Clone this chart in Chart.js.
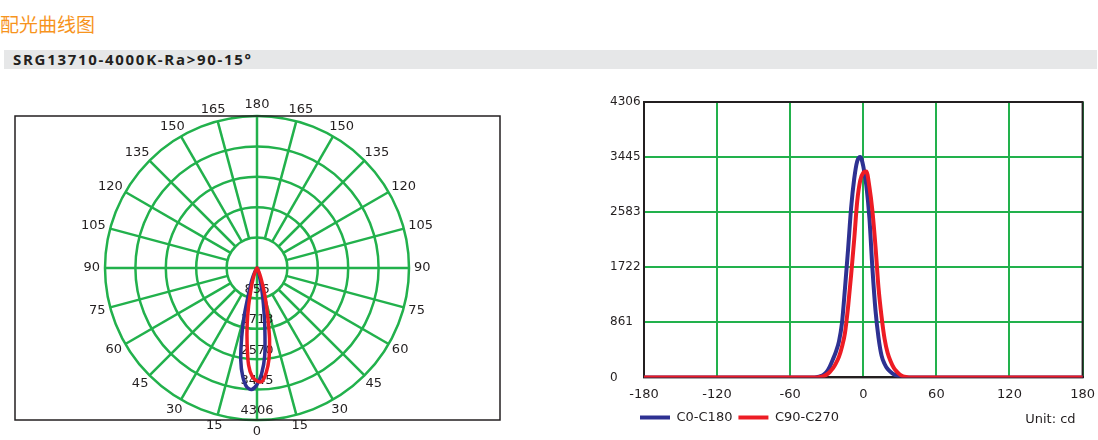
<!DOCTYPE html>
<html>
<head>
<meta charset="utf-8">
<script src="https://cdn.jsdelivr.net/npm/chart.js@4.4.0/dist/chart.umd.min.js"></script>
<style>
  body { margin: 0; width: 1098px; height: 440px; position: relative; background: #fff; overflow: hidden; }
  #title { position: absolute; left: 0; top: 11px; font: 19px "Noto Sans CJK SC"; line-height: 26px; color: #f7941d; }
  #bar { position: absolute; left: 4px; top: 50px; width: 1093px; height: 19px; background: #e6e7e8; }
  #bar span { position: absolute; left: 9px; top: 0; font: bold 15px "Open Sans"; line-height: 19px; color: #231f20; letter-spacing: 1.7px; }
  #polarBox { position: absolute; left: 0; top: 95px; width: 520px; height: 345px; }
  #lineBox { position: absolute; left: 590px; top: 90px; width: 508px; height: 350px; }
</style>
</head>
<body>
<div id="title">配光曲线图</div>
<div id="bar"><span>SRG13710-4000K-Ra&gt;90-15°</span></div>
<div id="polarBox"><canvas id="polar"></canvas></div>
<div id="lineBox"><canvas id="curve"></canvas></div>
<script>
// gamma angles (deg), negative = C180 / C270 half
const angles = [-180,
  -40, -37.5, -35, -32.5, -30, -27.5, -25, -22.5, -20, -17.5, -15, -12.5, -10, -7.5, -5, -2.5,
  0, 2.5, 5, 7.5, 10, 12.5, 15, 17.5, 20, 22.5, 25, 27.5, 30, 32.5, 35, 37.5, 40,
  180];
const c0Values = [0,
  0, 5, 20, 45, 90, 170, 280, 400, 560, 850, 1400, 2000, 2650, 3100, 3380, 3445,
  3300, 3000, 2500, 1700, 1050, 620, 340, 210, 130, 85, 50, 28, 12, 5, 0, 0, 0,
  0];
const c90Values = [0,
  0, 0, 8, 20, 45, 85, 140, 220, 320, 480, 700, 1100, 1600, 2150, 2750, 3080,
  3200, 3220, 2980, 2600, 2050, 1400, 950, 600, 380, 250, 150, 90, 45, 18, 5, 0, 0,
  0];
const seriesNames = ['C0-C180', 'C90-C270'];
const seriesColors = ['#2e3192', '#ed1c24'];
const intensityTicks = ['0', '861', '1722', '2583', '3445', '4306'];
const ringLabels = ['856', '1713', '2570', '3445', '4306'];
const polarAngleLabels = ['0', '15', '30', '45', '60', '75', '90', '105', '120', '135', '150', '165', '180'];
const xTicks = [-180, -120, -60, 0, 60, 120, 180];
const maxCd = 4306;

const green = '#22b14c';
const ink = '#231f20';
const font = '"DejaVu Sans", sans-serif';

// ---- polar (radar) ----
const polarStep = 2.5;
const polarCount = 360 / polarStep;
const polarLabels = [];
for (let i = 0; i < polarCount; i++) polarLabels.push(i * polarStep);

function lookup(values, a) {
  const k = angles.indexOf(a);
  return k < 0 ? 0 : values[k];
}
function polarData(values) {
  return polarLabels.map(g => lookup(values, g <= 180 ? -g : 360 - g));
}

const polarDecor = {
  id: 'polarDecor',
  beforeDatasetsDraw(chart) {
    const s = chart.scales.r;
    const ctx = chart.ctx;
    const R = s.drawingArea;
    const ca = chart.chartArea;
    ctx.save();
    // spokes every 15 deg
    ctx.strokeStyle = green;
    ctx.lineWidth = 2.5;
    const inner = s.getDistanceFromCenterForValue(maxCd / 5);
    for (let i = 0; i < polarCount; i += 15 / polarStep) {
      const from = (i % (90 / polarStep) === 0) ? 0 : inner;
      const p1 = s.getPointPosition(i, from);
      const p2 = s.getPointPosition(i, R);
      ctx.beginPath();
      ctx.moveTo(p1.x, p1.y);
      ctx.lineTo(p2.x, p2.y);
      ctx.stroke();
    }
    // frame
    ctx.strokeStyle = ink;
    ctx.lineWidth = 1.5;
    ctx.strokeRect(ca.left, ca.top, ca.right - ca.left, ca.bottom - ca.top);
    // ring values below centre
    ctx.fillStyle = ink;
    ctx.font = '13px ' + font;
    ctx.textAlign = 'center';
    ctx.textBaseline = 'middle';
    ringLabels.forEach((t, k) => {
      const r = s.getDistanceFromCenterForValue((k + 1) * maxCd / 5);
      ctx.fillText(t, s.xCenter, s.yCenter + r - 9);
    });
    // angle labels on both halves
    const put = (idx, text) => {
      const p = s.getPointPosition(idx, R + 4);
      const dx = (p.x - s.xCenter) / (R + 4);
      const dy = (p.y - s.yCenter) / (R + 4);
      const w = ctx.measureText(text).width;
      ctx.fillText(text, p.x + dx * (w / 2 + 1), p.y + dy * 7.5);
    };
    polarAngleLabels.forEach(t => {
      const g = Number(t);
      put(g / polarStep, t);
      if (g > 0 && g < 180) put((360 - g) / polarStep, t);
    });
    ctx.restore();
  }
};

new Chart(document.getElementById('polar'), {
  type: 'radar',
  data: {
    labels: polarLabels,
    datasets: [
      { label: seriesNames[0], data: polarData(c0Values), borderColor: seriesColors[0], order: 1 },
      { label: seriesNames[1], data: polarData(c90Values), borderColor: seriesColors[1], order: 0 }
    ]
  },
  options: {
    responsive: true,
    maintainAspectRatio: false,
    animation: false,
    layout: { padding: { left: 15, right: 20, top: 21, bottom: 20 } },
    elements: {
      line: { borderWidth: 3.5, tension: 0.3, fill: false, borderJoinStyle: 'round' },
      point: { radius: 0 }
    },
    plugins: { legend: { display: false }, tooltip: { enabled: false } },
    scales: {
      r: {
        min: 0,
        max: maxCd,
        startAngle: 180,
        ticks: { display: false, stepSize: maxCd / 5 },
        grid: { color: green, lineWidth: 2.5, circular: true },
        angleLines: { display: false },
        pointLabels: { display: false }
      }
    }
  },
  plugins: [polarDecor]
});

// ---- cartesian curve ----
const frameAndUnit = {
  id: 'frameAndUnit',
  beforeDatasetsDraw(chart) {
    const { ctx, chartArea: ca } = chart;
    ctx.save();
    ctx.strokeStyle = ink;
    ctx.lineWidth = 2;
    ctx.strokeRect(ca.left, ca.top, ca.right - ca.left, ca.bottom - ca.top);
    ctx.restore();
  },
  afterDraw(chart) {
    const { ctx, chartArea: ca } = chart;
    ctx.save();
    ctx.fillStyle = ink;
    ctx.font = '13px ' + font;
    ctx.textAlign = 'right';
    ctx.textBaseline = 'middle';
    ctx.fillText('Unit: cd', ca.right - 7, ca.bottom + 42);
    ctx.restore();
  }
};

const toPoints = values => angles.map((a, i) => ({ x: a, y: values[i] }));

new Chart(document.getElementById('curve'), {
  type: 'line',
  data: {
    datasets: [
      { label: seriesNames[0], data: toPoints(c0Values), borderColor: seriesColors[0], backgroundColor: seriesColors[0], order: 1 },
      { label: seriesNames[1], data: toPoints(c90Values), borderColor: seriesColors[1], backgroundColor: seriesColors[1], order: 0 }
    ]
  },
  options: {
    responsive: true,
    maintainAspectRatio: false,
    animation: false,
    layout: { padding: { left: 44, right: 14, top: 12, bottom: 6 } },
    elements: {
      line: { borderWidth: 4, cubicInterpolationMode: 'monotone', borderCapStyle: 'round', borderJoinStyle: 'round' },
      point: { radius: 0 }
    },
    plugins: {
      tooltip: { enabled: false },
      legend: {
        position: 'bottom',
        align: 'start',
        labels: {
          boxWidth: 30,
          boxHeight: 4,
          padding: 6,
          color: ink,
          font: { family: font, size: 13 },
          generateLabels: chart => Chart.defaults.plugins.legend.labels.generateLabels(chart)
            .map(l => Object.assign(l, { lineWidth: 0, fillStyle: l.strokeStyle }))
            .sort((a, b) => a.datasetIndex - b.datasetIndex)
        }
      }
    },
    scales: {
      x: {
        type: 'linear',
        min: xTicks[0],
        max: xTicks[xTicks.length - 1],
        afterBuildTicks: axis => { axis.ticks = xTicks.map(v => ({ value: v })); },
        grid: { color: green, lineWidth: 2, drawTicks: true, tickLength: 6, tickColor: 'transparent' },
        border: { color: ink, width: 2 },
        ticks: { color: ink, padding: 3, font: { family: font, size: 13 } }
      },
      y: {
        min: 0,
        max: maxCd,
        afterFit: axis => { axis.width = 10; },
        afterBuildTicks: axis => { axis.ticks = intensityTicks.map((t, i) => ({ value: i * maxCd / 5 })); },
        grid: { color: green, lineWidth: 2, drawTicks: false },
        border: { color: ink, width: 2 },
        ticks: {
          color: ink,
          mirror: true,
          padding: -34,
          font: { family: font, size: 12 },
          callback: (v, i) => intensityTicks[i]
        }
      }
    }
  },
  plugins: [frameAndUnit]
});
</script>
</body>
</html>
